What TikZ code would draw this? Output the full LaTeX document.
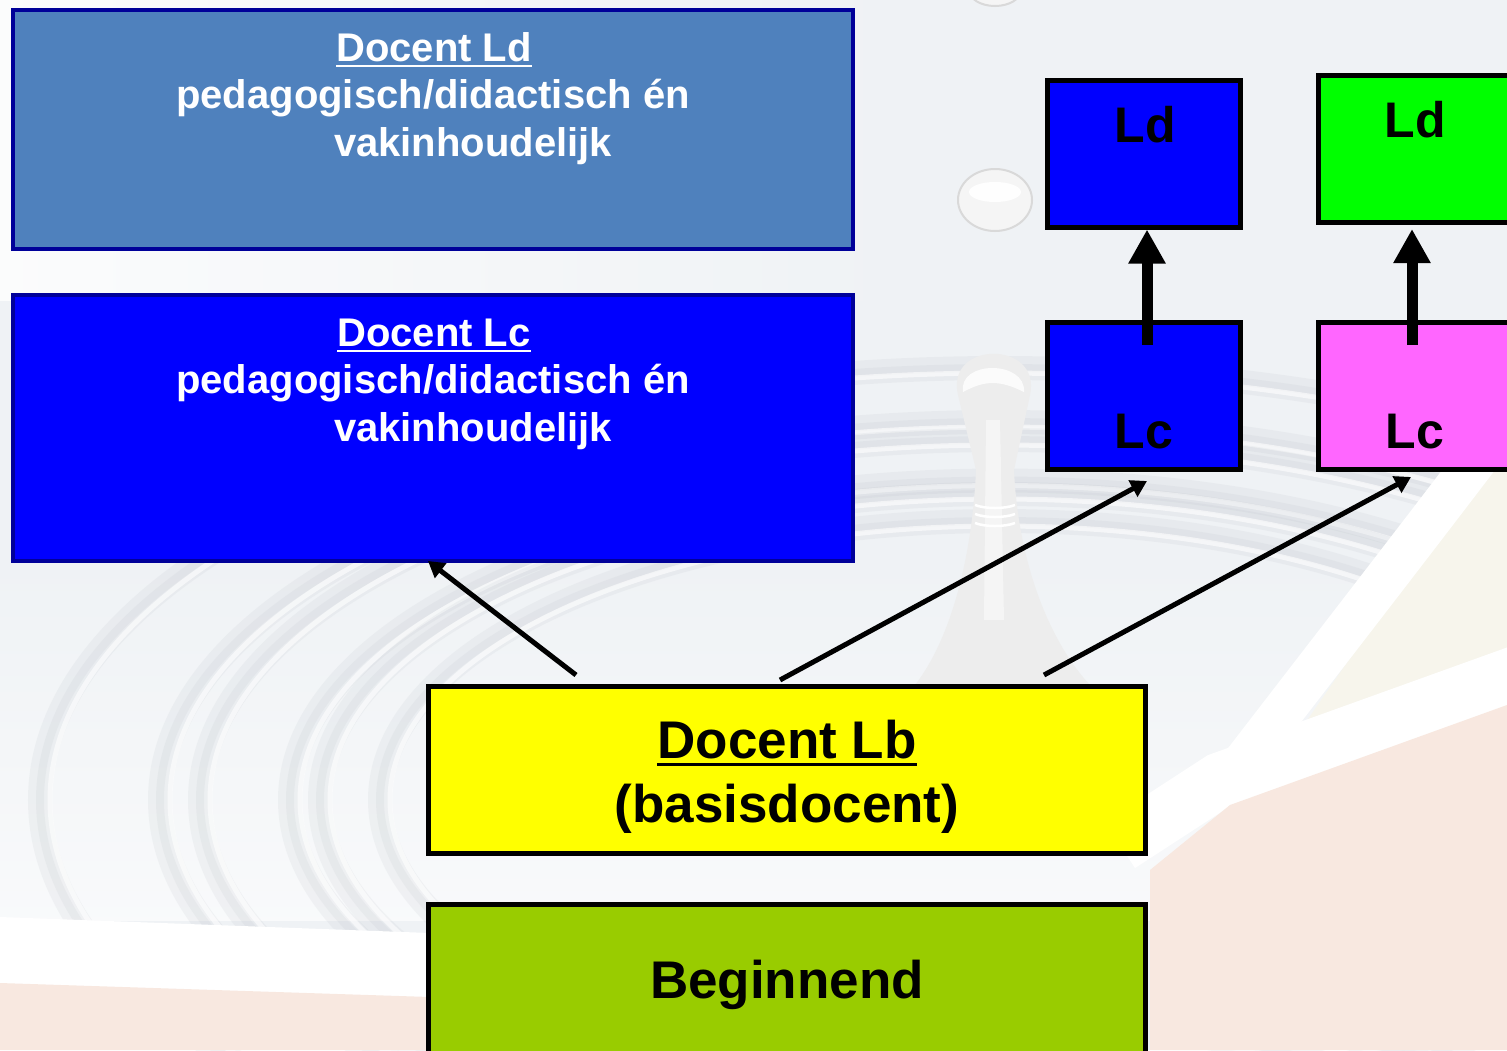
\documentclass[tikz,border=0pt]{standalone}
\usepackage{fontspec}
\setmainfont{Liberation Sans}
\usetikzlibrary{arrows.meta,calc}

\definecolor{bgc}{HTML}{EFF2F5}
\definecolor{warm}{HTML}{F8E8E0}
\definecolor{cream}{HTML}{F7F5EC}
\definecolor{steel}{HTML}{4F81BD}
\definecolor{navyedge}{HTML}{000099}
\definecolor{pureblue}{HTML}{0000FF}
\definecolor{lime}{HTML}{00FF00}
\definecolor{pinkbox}{HTML}{FF66FF}
\definecolor{yel}{HTML}{FFFF00}
\definecolor{olivegreen}{HTML}{99CC00}
\definecolor{ripple}{HTML}{B4BBC2}

% underline drawn as a rule under the text box
\newcommand\undl[1]{\setbox0\hbox{#1}\rlap{\rule[-0.16em]{\wd0}{0.07em}}\box0}

\tikzset{
  panel/.style={draw=navyedge, line width=4pt, rectangle, inner sep=0pt,
                minimum width=840pt},
  tile/.style={draw=black, line width=5pt, rectangle, inner sep=0pt,
               minimum width=193pt, minimum height=147pt},
  wide/.style={draw=black, line width=5pt, rectangle, inner sep=0pt,
               minimum width=717pt, minimum height=167pt},
  wtxt/.style={text=white, inner sep=0pt, anchor=base,
               font=\fontsize{40}{48}\selectfont\bfseries},
  tiletxt/.style={text=black, inner sep=0pt, anchor=base,
               font=\fontsize{50}{60}\selectfont\bfseries},
  widetxt/.style={text=black, inner sep=0pt, anchor=base,
               font=\fontsize{53}{64}\selectfont\bfseries},
  conn/.style={line width=5pt, -{Triangle[width=18pt,length=16pt]}},
  upconn/.style={line width=11pt, -{Triangle[width=35pt,length=34pt]}},
  ring/.style={ripple, line width=#1, opacity=0.13},
}

\begin{document}
\begin{tikzpicture}[x=1pt,y=-1pt]
\useasboundingbox (0,0) rectangle (1507,1050);
\clip (0,0) rectangle (1507,1050);

% backdrop: pale water surface
\fill[bgc] (0,0) rectangle (1507,1050);
\shade[left color=white!75!bgc, right color=bgc] (0,0) rectangle (900,300);
\shade[top color=bgc, bottom color=white!60!bgc] (0,560) rectangle (1507,920);

% soft ripple rings around the splash
\foreach \rx in {960,840,800,710,680,620} {
  \draw[ring=24pt] (1000,800) ellipse [x radius=\rx, y radius=0.45*\rx];
  \draw[ring=8pt] (1000,800) ellipse [x radius=\rx, y radius=0.45*\rx];
  \draw[white, line width=5pt, opacity=0.6] (1000,800)
    ellipse [x radius=\rx-10, y radius=0.45*\rx-5];
}

% warm tabletop at the bottom, edged by a white rim
\fill[white] (0,917) -- (430,933) -- (430,1050) -- (0,1050) -- cycle;
\fill[warm] (0,983) -- (430,997) -- (430,1050) -- (0,1050) -- cycle;
\fill[cream] (1480,470) -- (1507,470) -- (1507,660) -- (1290,745) -- cycle;
\draw[white, line width=42pt] (1480,455) .. controls (1400,560) and (1330,650) .. (1230,780);
\draw[white, line width=55pt] (1120,845) -- (1220,780) -- (1520,672);
\fill[warm] (1150,870) -- (1230,805) -- (1507,705) -- (1507,1050) -- (1150,1050) -- cycle;

% the falling drop, its column and a bubble above
\fill[gray!14] (958,395) .. controls (945,340) and (1042,340) .. (1030,395)
  -- (1014,470) .. controls (1018,560) and (1048,640) .. (1090,685)
  -- (915,685) .. controls (950,640) and (972,560) .. (976,470) -- cycle;
\fill[white, opacity=0.8] (963,392) .. controls (958,360) and (1026,360) .. (1024,392)
  .. controls (1000,380) and (985,380) .. (963,392) -- cycle;
\fill[white, opacity=0.45] (986,420) -- (1000,420) -- (1004,620) -- (984,620) -- cycle;
\foreach \yy in {505,514,523}
  \draw[white, line width=2.5pt] (975,\yy) .. controls (985,\yy+4) and (1005,\yy+4) .. (1015,\yy);
\fill[gray!8] (995,200) ellipse [x radius=37pt, y radius=31pt];
\draw[gray!30, line width=2pt] (995,200) ellipse [x radius=37pt, y radius=31pt];
\fill[white, opacity=0.9] (995,192) ellipse [x radius=26pt, y radius=10pt];
\fill[gray!8] (995,-10) ellipse [x radius=26pt, y radius=16pt];
\draw[gray!30, line width=2pt] (995,-10) ellipse [x radius=26pt, y radius=16pt];

% left column panels
\node[panel, fill=steel, minimum height=239pt] (ldbig) at (433,129.5) {};
\node[panel, fill=pureblue, minimum height=266pt] (lcbig) at (433,428) {};

\node[wtxt] (ldt1) at (434,61) {\undl{Docent Ld}};
\node[wtxt] (ldt2) at (433,108) {pedagogisch/didactisch én};
\node[wtxt] (ldt3) at (473,156) {vakinhoudelijk};

\node[wtxt] (lct1) at (434,346) {\undl{Docent Lc}};
\node[wtxt] (lct2) at (433,393) {pedagogisch/didactisch én};
\node[wtxt] (lct3) at (473,441) {vakinhoudelijk};

% right tiles
\node[tile, fill=pureblue] (ldA) at (1144,153.5) {};
\node[tile, fill=lime] (ldB) at (1415,149) {};
\node[tile, fill=pureblue] (lcA) at (1144,396) {};
\node[tile, fill=pinkbox] (lcB) at (1415,396) {};

\node[tiletxt] (ldAt) at (1145,142) {Ld};
\node[tiletxt] (ldBt) at (1415,137) {Ld};
\node[tiletxt] (lcAt) at (1144,448) {Lc};
\node[tiletxt] (lcBt) at (1415,448) {Lc};

% bottom boxes
\node[wide, fill=yel] (lb) at (787,770) {};
\node[wide, fill=olivegreen] (beg) at (787,988) {};

\node[widetxt] (lbt1) at (787,758) {\undl{Docent Lb}};
\node[widetxt] (lbt2) at (787,822) {(basisdocent)};
\node[widetxt] (begt) at (787,998) {Beginnend};

% connector end points
\coordinate (s1) at ($(lb.north west)+(150,-9)$);
\coordinate (e1) at ($(lcbig.south)+(-5,-2)$);
\coordinate (s2) at ($(lb.north west)+(354,-4)$);
\coordinate (e2) at ($(lcA.south)+(3,9)$);
\coordinate (s3) at ($(lb.north west)+(618,-9)$);
\coordinate (e3) at ($(lcB.south)+(-4,5)$);
\coordinate (u1) at ($(lcA.north)+(3,25)$);
\coordinate (v1) at ($(ldA.south)+(3,0)$);
\coordinate (u2) at ($(lcB.north)+(-3,25)$);
\coordinate (v2) at ($(ldB.south)+(-3,4)$);

\draw[conn] (s1) -- (e1);
\draw[conn] (s2) -- (e2);
\draw[conn] (s3) -- (e3);
\draw[upconn] (u1) -- (v1);
\draw[upconn] (u2) -- (v2);
\end{tikzpicture}
\end{document}
